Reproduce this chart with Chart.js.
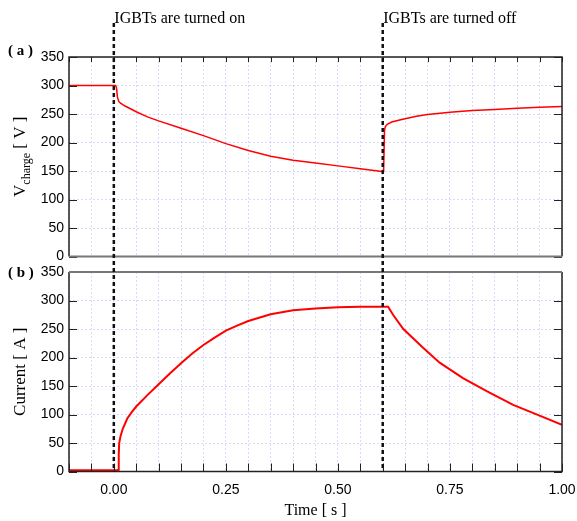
<!DOCTYPE html>
<html>
<head>
<meta charset="utf-8">
<script src="https://cdn.jsdelivr.net/npm/chart.js@4.4.0/dist/chart.umd.min.js"></script>
<style>
  html, body { margin: 0; padding: 0; background: #fff; }
  #wrap { position: relative; width: 577px; height: 521px; }
  #vChart { position: absolute; left: 0; top: 0; }
  #iChart { position: absolute; left: 0; top: 262px; }
</style>
</head>
<body>
<div id="wrap">
  <canvas id="vChart" width="577" height="262"></canvas>
  <canvas id="iChart" width="577" height="259"></canvas>
</div>
<script>
// Data
const vTime   = [-0.1, 0.004, 0.006, 0.008, 0.011, 0.015, 0.025, 0.05, 0.075, 0.1, 0.15, 0.2, 0.25, 0.3, 0.35, 0.4, 0.45, 0.5, 0.55, 0.598, 0.602, 0.604, 0.606, 0.61, 0.62, 0.64, 0.675, 0.7, 0.75, 0.8, 0.85, 0.9, 0.95, 1.0];
const vCharge = [300, 300, 296, 280, 272, 269, 264, 254, 245, 238, 225, 212, 198, 186, 176, 169, 164, 159, 154, 149, 149, 222, 228, 232, 236, 240, 246, 249, 253, 256, 258, 260, 262, 263];

const iTime    = [-0.1, 0.009, 0.01, 0.011, 0.012, 0.015, 0.02, 0.03, 0.04, 0.05, 0.075, 0.1, 0.125, 0.15, 0.175, 0.2, 0.225, 0.25, 0.275, 0.3, 0.35, 0.4, 0.45, 0.5, 0.55, 0.6, 0.612, 0.623, 0.646, 0.69, 0.727, 0.779, 0.832, 0.891, 0.95, 1.0];
const iCurrent = [2, 2, 3, 30, 50, 62, 75, 93, 104, 114, 134, 153, 172, 190, 207, 222, 235, 247, 256, 264, 276, 283, 286, 288, 289, 289, 289, 275, 250, 217, 191, 164, 141, 117, 98, 82];

const eventTimes  = [0, 0.6];
const eventLabels = ['IGBTs are turned on', 'IGBTs are turned off'];

const xMin = -0.1, xMax = 1.0, xStep = 0.05;
const yMin = 0, yMax = 350, yStep = 50;

const gridColor = 'rgba(120, 135, 235, 0.3)';
const frameColor = '#222';

function toPoints(xs, ys) {
    return xs.map((x, i) => ({ x: x, y: ys[i] }));
}

function xLabel(value) {
    const q = value * 4;
    return Math.abs(q - Math.round(q)) < 1e-6 ? value.toFixed(2) : '';
}

// Frame, inward ticks, dashed event lines and texts
const framePlugin = {
    id: 'frame',
    afterDraw(chart, args, opts) {
        const ctx = chart.ctx;
        const a = chart.chartArea;
        const xs = chart.scales.x, ys = chart.scales.y;
        ctx.save();

        // inward ticks
        ctx.strokeStyle = frameColor;
        ctx.lineWidth = 1;
        ys.ticks.forEach(t => {
            const py = Math.round(ys.getPixelForValue(t.value)) + 0.5;
            ctx.beginPath();
            ctx.moveTo(a.left, py); ctx.lineTo(a.left + 8, py);
            ctx.moveTo(a.right, py); ctx.lineTo(a.right - 8, py);
            ctx.stroke();
        });
        xs.ticks.forEach(t => {
            const px = Math.round(xs.getPixelForValue(t.value)) + 0.5;
            ctx.beginPath();
            if (opts.tickEdge === 'top') {
                ctx.moveTo(px, a.top); ctx.lineTo(px, a.top + 5);
            } else {
                ctx.moveTo(px, a.bottom); ctx.lineTo(px, a.bottom - 8);
            }
            ctx.stroke();
        });

        // frame
        ctx.lineWidth = 1.5;
        ctx.strokeStyle = frameColor;
        ctx.beginPath();
        if (opts.tickEdge === 'top') {
            ctx.moveTo(a.left, a.bottom); ctx.lineTo(a.left, a.top);
            ctx.lineTo(a.right, a.top); ctx.lineTo(a.right, a.bottom);
        } else {
            ctx.moveTo(a.left, a.top); ctx.lineTo(a.left, a.bottom);
            ctx.lineTo(a.right, a.bottom); ctx.lineTo(a.right, a.top);
        }
        ctx.stroke();
        ctx.strokeStyle = '#777';
        ctx.lineWidth = 2;
        ctx.beginPath();
        const innerY = opts.tickEdge === 'top' ? a.bottom : a.top;
        ctx.moveTo(a.left, innerY); ctx.lineTo(a.right, innerY);
        ctx.stroke();

        // dashed event lines
        ctx.strokeStyle = '#111';
        ctx.lineWidth = 2.5;
        ctx.setLineDash([4, 3]);
        ctx.lineDashOffset = opts.dashOffset;
        eventTimes.forEach(t => {
            const px = xs.getPixelForValue(t);
            ctx.beginPath();
            ctx.moveTo(px, opts.lineTop);
            ctx.lineTo(px, opts.lineBottom === 'area' ? a.bottom : chart.height);
            ctx.stroke();
        });
        ctx.setLineDash([]);

        ctx.fillStyle = '#000';
        if (opts.showEvents) {
            ctx.font = '16px "Liberation Serif"';
            ctx.textAlign = 'left';
            ctx.textBaseline = 'alphabetic';
            eventTimes.forEach((t, i) => {
                ctx.fillText(eventLabels[i], xs.getPixelForValue(t) + 0.5, 23);
            });
        }

        // panel label
        ctx.font = 'bold 15px "Liberation Serif"';
        ctx.textAlign = 'left';
        ctx.textBaseline = 'middle';
        ctx.fillText(opts.panel, 8, opts.panelY);

        // rotated y title
        let total = 0;
        opts.title.forEach(p => { ctx.font = p.font; p.w = ctx.measureText(p.text).width; total += p.w; });
        ctx.translate(25, (a.top + a.bottom) / 2);
        ctx.rotate(-Math.PI / 2);
        ctx.textBaseline = 'alphabetic';
        let tx = -total / 2;
        opts.title.forEach(p => { ctx.font = p.font; ctx.fillText(p.text, tx, p.shift); tx += p.w; });

        ctx.restore();
    }
};

function makeChart(id, xs, ys, cfg) {
    return new Chart(document.getElementById(id), {
        type: 'line',
        data: {
            datasets: [{
                data: toPoints(xs, ys),
                borderColor: '#ff0000',
                borderWidth: cfg.lineWidth,
                pointRadius: 0,
                tension: 0,
                fill: false
            }]
        },
        options: {
            responsive: false,
            animation: false,
            parsing: false,
            layout: { padding: cfg.padding },
            plugins: {
                legend: { display: false },
                tooltip: { enabled: false },
                frame: cfg.frame
            },
            scales: {
                x: {
                    type: 'linear',
                    min: xMin,
                    max: xMax,
                    ticks: {
                        stepSize: xStep,
                        autoSkip: false,
                        maxRotation: 0,
                        display: cfg.showX,
                        padding: 10,
                        color: '#000',
                        font: { family: 'Liberation Sans', size: 14 },
                        callback: xLabel
                    },
                    grid: { color: gridColor, lineWidth: 1, drawTicks: false },
                    border: { display: false, dash: [2, 2] },
                    title: {
                        display: cfg.showX,
                        text: 'Time [ s ]',
                        color: '#000',
                        font: { family: 'Liberation Serif', size: 16 },
                        padding: { top: 0, bottom: 1 }
                    },
                    afterFit: s => {
                        s.height = cfg.xHeight;
                        s.paddingLeft = 0; s.paddingRight = 0;
                    }
                },
                y: {
                    min: yMin,
                    max: yMax,
                    ticks: {
                        stepSize: yStep,
                        padding: 5,
                        color: '#000',
                        font: { family: 'Liberation Sans', size: 14 }
                    },
                    grid: { color: gridColor, lineWidth: 1, drawTicks: false },
                    border: { display: false, dash: [2, 2] },
                    afterFit: s => {
                        s.width = 69;
                        s.paddingTop = 0; s.paddingBottom = 0;
                    }
                }
            }
        },
        plugins: [framePlugin]
    });
}

makeChart('vChart', vTime, vCharge, {
    lineWidth: 1.5,
    showX: false,
    xHeight: 0,
    padding: { left: 0, right: 15, top: 57, bottom: 5.5 },
    frame: {
        tickEdge: 'top',
        showEvents: true,
        lineTop: 23,
        lineBottom: 'canvas',
        dashOffset: 0,
        panel: '( a )',
        panelY: 51,
        title: [
            { text: 'V', font: '17px "Liberation Serif"', shift: 0 },
            { text: 'charge', font: '12px "Liberation Serif"', shift: 5 },
            { text: ' [ V ]', font: '17px "Liberation Serif"', shift: 0 }
        ]
    }
});

makeChart('iChart', iTime, iCurrent, {
    lineWidth: 2,
    showX: true,
    xHeight: 49.5,
    padding: { left: 0, right: 15, top: 10, bottom: 0 },
    frame: {
        tickEdge: 'bottom',
        showEvents: false,
        lineTop: 0,
        lineBottom: 'area',
        dashOffset: 1,
        panel: '( b )',
        panelY: 11,
        title: [
            { text: 'Current [ A ]', font: '17px "Liberation Serif"', shift: 0 }
        ]
    }
});
</script>
</body>
</html>
